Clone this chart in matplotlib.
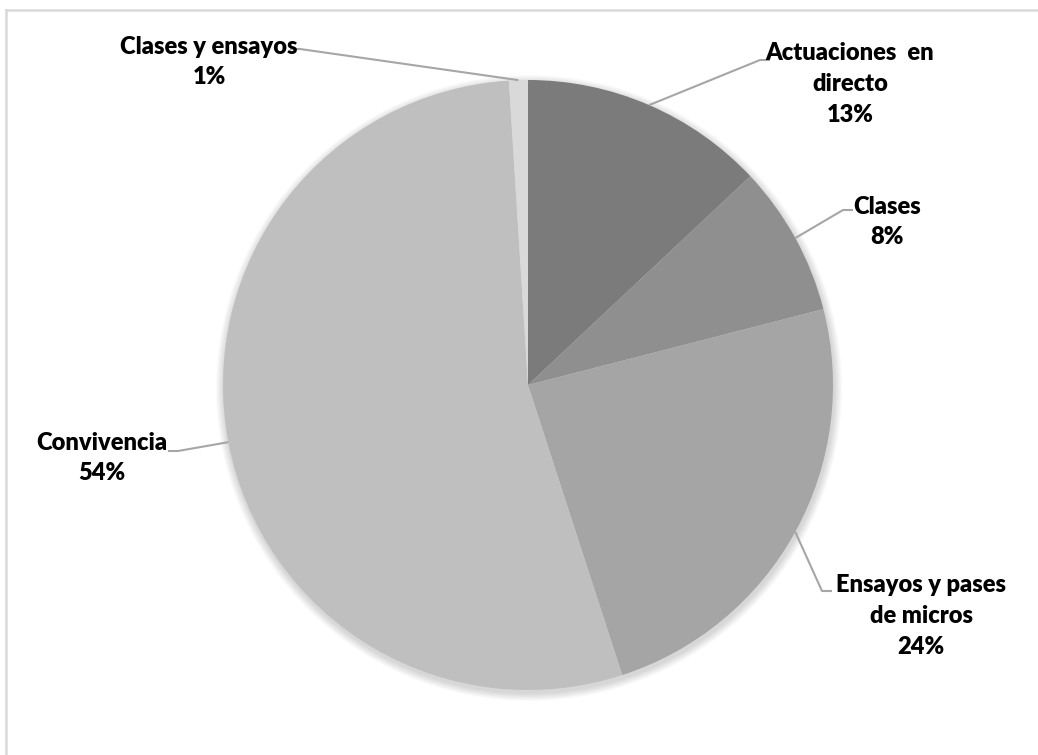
import numpy as np
import matplotlib
matplotlib.use('Agg')
import matplotlib.pyplot as plt

# data
categories = ['Actuaciones  en\ndirecto', 'Clases', 'Ensayos y pases\nde micros',
              'Convivencia', 'Clases y ensayos']
values = [13, 8, 24, 54, 1]
colors = ['#7b7b7b', '#8f8f8f', '#a5a5a5', '#bfbfbf', '#d9d9d9']

# label layout, pixel coords (x, y from top): text centre, elbow of leader
label_pos = [(850, 84), (887, 222), (921, 616), (102, 458), (209, 62)]
elbow_pos = [(760, 60), (843, 210), (822, 591), (178, 451), (300, 49)]
text_side = ['right', 'right', 'right', 'left', 'left']

W, H = 1038, 755
cx, cy, r = 528, 370, 305
fs = 17

plt.rcParams['font.family'] = ['Lato', 'DejaVu Sans']

fig = plt.figure(figsize=(W / 100, H / 100), dpi=100)
ax = fig.add_axes([0, 0, 1, 1])

# soft shadow under the pie
for i in range(8):
    ax.add_patch(plt.Circle((cx + 1, cy - 3), r + 1 + i, color='black',
                            alpha=0.018, lw=0, zorder=1))

wedges, _ = ax.pie(values, colors=colors, startangle=90, counterclock=False,
                   center=(cx, cy), radius=r, frame=True,
                   wedgeprops=dict(linewidth=0, zorder=2))
ax.set_xlim(0, W)
ax.set_ylim(0, H)
ax.set_aspect('equal')
ax.axis('off')

# labels with leader lines
for w, lbl, v, lp, ep, side in zip(wedges, categories, values, label_pos,
                                   elbow_pos, text_side):
    mid = np.deg2rad((w.theta1 + w.theta2) / 2)
    px = cx + r * np.cos(mid)
    py = cy + r * np.sin(mid)
    ex, ey = ep[0], H - ep[1]
    hx = ex + 10 if side == 'right' else ex - 10
    ax.plot([px, ex, hx], [py, ey, ey], color='#a6a6a6', lw=1.5,
            zorder=3, solid_capstyle='butt')
    ax.text(lp[0], H - lp[1], f'{lbl}\n{v}%', ha='center', va='center',
            fontsize=fs, fontweight='heavy', color='black', linespacing=1.5,
            zorder=4)

# chart frame (top and left edges visible)
fig.add_artist(plt.Line2D([6 / W, 1], [1 - 10 / H, 1 - 10 / H],
                          transform=fig.transFigure, color='#d9d9d9', lw=1.8))
fig.add_artist(plt.Line2D([6 / W, 6 / W], [0, 1 - 10 / H],
                          transform=fig.transFigure, color='#d9d9d9', lw=1.8))

fig.savefig('out.png', dpi=100, facecolor='white')
